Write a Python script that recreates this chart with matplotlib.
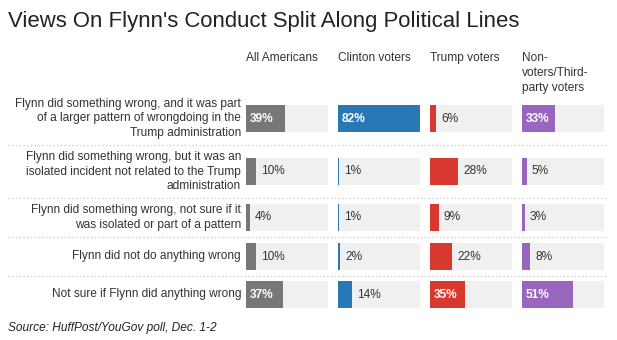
import matplotlib
matplotlib.use("Agg")
import matplotlib.pyplot as plt

# data
answers = [
    "Flynn did something wrong, and it was part\nof a larger pattern of wrongdoing in the\nTrump administration",
    "Flynn did something wrong, but it was an\nisolated incident not related to the Trump\nadministration",
    "Flynn did something wrong, not sure if it\nwas isolated or part of a pattern",
    "Flynn did not do anything wrong",
    "Not sure if Flynn did anything wrong",
]
groups = ["All Americans", "Clinton voters", "Trump voters", "Non-\nvoters/Third-\nparty voters"]
all_americans = [39, 10, 4, 10, 37]
clinton_voters = [82, 1, 1, 2, 14]
trump_voters = [6, 28, 9, 22, 35]
other_voters = [33, 5, 3, 8, 51]
series = [all_americans, clinton_voters, trump_voters, other_voters]
colors = ["#777777", "#2a77b5", "#d8392f", "#9867bd"]

# layout (pixels)
W, H = 617, 340
col_left = [246, 338, 430, 522]
col_w = 82
row_y = [118.5, 171.5, 217.5, 256.5, 294.5]
sep_y = [145, 198, 237, 276]
bar_h = 27
vmax = max(max(s) for s in series)

plt.rcParams['font.family'] = ['Liberation Sans', 'DejaVu Sans']
txt = "#333333"
fs = 8.6

fig = plt.figure(figsize=(W / 100, H / 100), dpi=100)
base = fig.add_axes([0, 0, 1, 1])
base.set_xlim(0, W)
base.set_ylim(H, 0)
base.axis("off")

base.text(8, 27, "Views On Flynn's Conduct Split Along Political Lines",
          fontsize=15.9, color="#222222", va="baseline", ha="left")

for y, lab in zip(row_y, answers):
    base.text(241, y, lab, ha="right", va="center", fontsize=fs,
              color=txt, linespacing=1.32)
for y in sep_y:
    base.plot([8, 608], [y, y], color="#c8c8c8", lw=0.9, ls=(0, (1, 2)))

base.text(8, 328, "Source: HuffPost/YouGov poll, Dec. 1-2", style="italic",
          fontsize=fs, color="#222222", va="center")

for left, name, vals, c in zip(col_left, groups, series, colors):
    base.text(left, 52, name, ha="left", va="top", fontsize=fs,
              color=txt, linespacing=1.32)
    ax = fig.add_axes([left / W, 0, col_w / W, 1])
    ax.set_xlim(0, vmax)
    ax.set_ylim(H, 0)
    ax.axis("off")
    ax.barh(row_y, [vmax] * len(vals), height=bar_h, color="#f0f0f0", lw=0)
    ax.barh(row_y, vals, height=bar_h, color=c, lw=0)
    for y, v in zip(row_y, vals):
        if v >= 30:
            ax.text(4, y, f"{v}%", color="white", fontweight="bold",
                    fontsize=fs, va="center", ha="left")
        else:
            ax.text(v + 5, y, f"{v}%", color=txt, fontsize=fs,
                    va="center", ha="left")

fig.savefig("out.png", dpi=100)
